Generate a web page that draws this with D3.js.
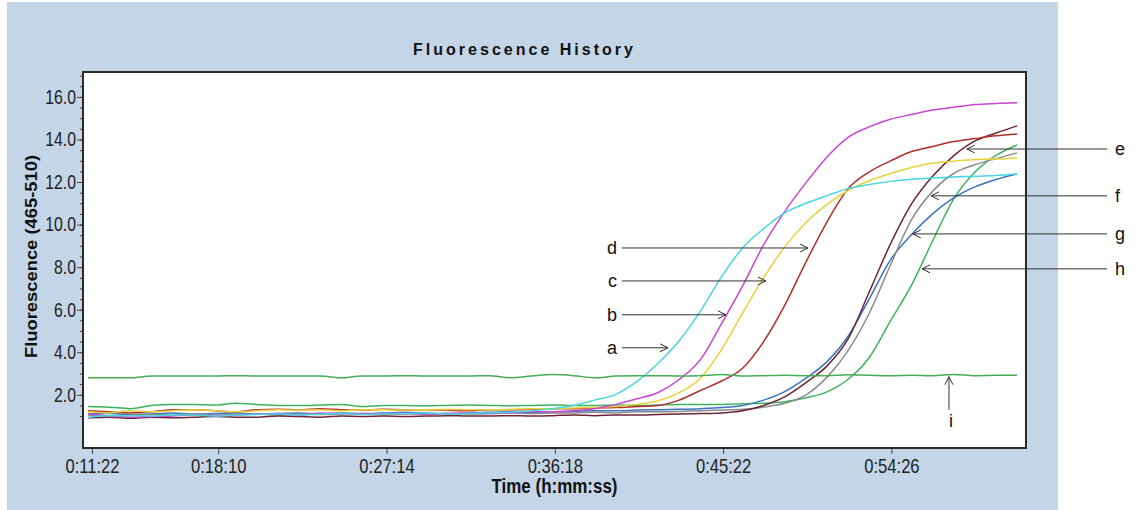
<!DOCTYPE html>
<html><head><meta charset="utf-8">
<script src="https://cdn.jsdelivr.net/npm/d3@7"></script>
<style>
body{margin:0;background:#fff;}
svg{display:block;}
</style></head><body>
<svg id="chart" width="1138" height="510"></svg>
<script>
// ---- data ----
const times = [669,737,806,874,942,1010,1079,1147,1215,1283,1352,1420,1488,1556,1625,1693,1761,1829,1898,1966,2034,2102,2171,2239,2307,2375,2444,2512,2580,2648,2717,2785,2853,2921,2990,3058,3126,3194,3263,3331,3399,3467,3536,3604,3672];

const seriesNames = ["a","b","c","d","e","f","g","h","i"];
const seriesColors = ["#47d7e0","#c846d2","#e6d23a","#b0302c","#6e2436","#8c8c8c","#3b74c0","#3fb35f","#44ad55"];

const seriesA = [0.95,1.02,1.02,1.0,1.05,1.05,1.0,1.05,1.08,1.1,1.05,1.1,1.12,1.08,1.1,1.12,1.15,1.1,1.12,1.15,1.18,1.25,1.35,1.5,1.75,2.02,2.63,3.48,4.54,5.92,7.55,8.9,9.81,10.55,11.0,11.36,11.69,11.88,12.03,12.13,12.19,12.24,12.27,12.31,12.38];
const seriesB = [1.1,1.0,0.95,0.98,1.0,1.05,1.02,1.05,1.1,1.12,1.05,1.15,1.12,1.1,1.12,1.15,1.1,1.12,1.15,1.12,1.15,1.2,1.2,1.25,1.35,1.55,1.81,2.11,2.72,3.64,5.35,7.12,9.05,10.61,11.97,13.18,14.1,14.59,14.95,15.17,15.38,15.51,15.64,15.69,15.72];
const seriesC = [1.2,1.15,1.25,1.2,1.25,1.3,1.25,1.2,1.25,1.3,1.28,1.3,1.25,1.3,1.3,1.28,1.3,1.32,1.3,1.3,1.32,1.35,1.35,1.38,1.4,1.45,1.55,1.72,2.1,2.77,4.12,5.85,7.5,8.95,10.1,10.95,11.6,12.06,12.4,12.68,12.89,12.98,13.06,13.08,13.13];
const seriesD = [1.25,1.2,1.15,1.2,1.3,1.3,1.25,1.2,1.3,1.32,1.3,1.35,1.3,1.28,1.32,1.3,1.3,1.28,1.25,1.3,1.3,1.32,1.35,1.35,1.38,1.4,1.45,1.5,1.75,2.2,2.65,3.25,4.5,6.2,8.25,10.13,11.68,12.47,12.99,13.43,13.67,13.9,14.04,14.17,14.26];
const seriesE = [0.92,0.95,0.9,0.95,0.92,0.95,0.98,0.95,0.95,1.0,0.98,0.95,1.0,0.98,1.0,0.98,1.0,1.02,1.0,1.0,1.02,1.0,1.02,1.05,1.02,1.05,1.05,1.08,1.1,1.12,1.15,1.25,1.5,1.9,2.57,3.36,4.63,6.82,9.09,10.97,12.27,13.23,13.93,14.3,14.64];
const seriesF = [1.05,1.0,1.05,1.08,1.05,1.1,1.05,1.08,1.1,1.05,1.1,1.08,1.1,1.12,1.08,1.1,1.1,1.12,1.1,1.12,1.15,1.12,1.15,1.15,1.18,1.15,1.2,1.2,1.22,1.25,1.28,1.32,1.42,1.6,2.0,2.83,4.08,5.82,8.1,10.23,11.56,12.4,12.81,13.1,13.37];
const seriesG = [1.1,1.12,1.08,1.1,1.15,1.1,1.12,1.15,1.1,1.12,1.15,1.1,1.15,1.12,1.15,1.18,1.15,1.12,1.15,1.18,1.2,1.18,1.2,1.22,1.25,1.25,1.28,1.3,1.32,1.35,1.4,1.5,1.75,2.15,2.78,3.56,4.75,6.5,8.34,9.53,10.5,11.25,11.77,12.12,12.38];
const seriesH = [1.45,1.42,1.35,1.5,1.55,1.55,1.52,1.6,1.55,1.5,1.5,1.52,1.55,1.45,1.5,1.5,1.48,1.5,1.52,1.5,1.48,1.5,1.52,1.5,1.5,1.52,1.5,1.52,1.55,1.55,1.55,1.58,1.6,1.67,1.86,2.14,2.73,3.74,5.47,7.15,9.23,11.2,12.47,13.25,13.74];
const seriesI = [2.8,2.8,2.8,2.88,2.88,2.88,2.88,2.9,2.88,2.88,2.88,2.88,2.8,2.88,2.88,2.9,2.88,2.88,2.88,2.9,2.8,2.88,2.95,2.9,2.8,2.88,2.9,2.9,2.88,2.9,2.95,2.88,2.9,2.92,2.9,2.9,2.94,2.92,2.9,2.92,2.9,2.96,2.9,2.92,2.92];

const xTickLabels = ["0:11:22","0:18:10","0:27:14","0:36:18","0:45:22","0:54:26"];
const yTickLabels = ["2.0","4.0","6.0","8.0","10.0","12.0","14.0","16.0"];

// arrow annotations (data coordinates: seconds, fluorescence)
const leftAnnoLabels = ["a","b","c","d"];
const leftAnnoTipTime = [2544,2731,2860,2996];
const leftAnnoTipValue = [4.21,5.76,7.35,8.9];
const leftAnnoTailTime = 2395;
const rightAnnoLabels = ["e","f","g","h"];
const rightAnnoTipTime = [3510,3394,3335,3365];
const rightAnnoTipValue = [13.55,11.35,9.56,7.92];
const rightAnnoTailTime = 3963;
const iAnnoLabel = "i";
const iAnnoTip = [3452, 2.85];
const iAnnoTailValue = 1.3;

// ---- drawing ----
const svg = d3.select("#chart");
const plot = {left: 83, top: 72, right: 1026, bottom: 448};

const toSec = s => { const p = s.split(":").map(Number); return p[0]*3600 + p[1]*60 + p[2]; };

const x = d3.scaleLinear().domain([653, 3701]).range([plot.left, plot.right]);
const y = d3.scaleLinear().domain([-0.5, 17.17]).range([plot.bottom, plot.top]);

const baseFont = "'Liberation Sans', Arial, sans-serif";
// narrow look: compress glyphs horizontally
function narrow(sel, factor) {
  sel.each(function() {
    const len = this.getComputedTextLength();
    d3.select(this).attr("textLength", len * factor).attr("lengthAdjust", "spacingAndGlyphs");
  });
}

// panel
svg.append("rect").attr("x", 7).attr("y", 2).attr("width", 1051).attr("height", 508).attr("fill", "#c3d5e6");

// plot area
svg.append("rect").attr("x", plot.left).attr("y", plot.top)
  .attr("width", plot.right - plot.left).attr("height", plot.bottom - plot.top)
  .attr("fill", "#fff");

// title
svg.append("text").attr("x", 413).attr("y", 55)
  .attr("textLength", 220).attr("lengthAdjust", "spacing")
  .style("font-family", baseFont)
  .style("font-size", "16px").style("font-weight", "bold").attr("fill", "#111")
  .text("Fluorescence History");

// y axis (minor ticks)
const minorVals = d3.range(1, 17.01, 0.5);
const yMinor = svg.append("g").attr("transform", `translate(${plot.left},0)`)
  .call(d3.axisLeft(y).tickValues(minorVals).tickSize(3).tickFormat(""));
yMinor.select(".domain").remove();
yMinor.selectAll("line").attr("stroke", "#444");

// y axis (major)
const yMajorVals = yTickLabels.map(Number);
const yAxis = svg.append("g").attr("transform", `translate(${plot.left},0)`)
  .call(d3.axisLeft(y).tickValues(yMajorVals).tickSize(6).tickPadding(1)
    .tickFormat((d, i) => yTickLabels[i]));
yAxis.select(".domain").remove();
yAxis.selectAll("line").attr("stroke", "#444");
yAxis.selectAll("text").style("font-family", baseFont).style("font-size", "20px").attr("fill", "#222");
narrow(yAxis.selectAll("text"), 0.79);

// x axis
const xVals = xTickLabels.map(toSec);
const xAxis = svg.append("g").attr("transform", `translate(0,${plot.bottom})`)
  .call(d3.axisBottom(x).tickValues(xVals).tickSize(6).tickPadding(4)
    .tickFormat((d, i) => xTickLabels[i]));
xAxis.select(".domain").remove();
xAxis.selectAll("line").attr("stroke", "#444");
xAxis.selectAll("text").style("font-family", baseFont).style("font-size", "21px").attr("fill", "#222");
narrow(xAxis.selectAll("text"), 0.79);

// axis titles
svg.append("text").attr("x", (plot.left + plot.right) / 2).attr("y", 493)
  .attr("text-anchor", "middle").attr("textLength", 126).attr("lengthAdjust", "spacingAndGlyphs")
  .style("font-family", baseFont).style("font-size", "20px").style("font-weight", "bold").attr("fill", "#111")
  .text("Time (h:mm:ss)");

svg.append("text").attr("transform", "translate(37,256.5) rotate(-90)")
  .attr("text-anchor", "middle").attr("textLength", 203).attr("lengthAdjust", "spacingAndGlyphs")
  .style("font-family", baseFont)
  .style("font-size", "16px").style("font-weight", "bold").attr("fill", "#111")
  .text("Fluorescence (465-510)");

// clip
svg.append("clipPath").attr("id", "clip").append("rect")
  .attr("x", plot.left).attr("y", plot.top)
  .attr("width", plot.right - plot.left).attr("height", plot.bottom - plot.top);

const allSeries = [seriesA, seriesB, seriesC, seriesD, seriesE, seriesF, seriesG, seriesH, seriesI];
const line = d3.line().x((d, i) => x(times[i])).y(d => y(d)).curve(d3.curveMonotoneX);
const drawOrder = [7, 6, 5, 4, 3, 2, 1, 0, 8];
const lines = svg.append("g").attr("clip-path", "url(#clip)");
drawOrder.forEach(k => {
  lines.append("path").datum(allSeries[k])
    .attr("fill", "none").attr("stroke", seriesColors[k]).attr("stroke-width", 1.5)
    .attr("stroke-linejoin", "round")
    .attr("d", line)
    .attr("data-name", seriesNames[k]);
});

// plot border
svg.append("rect").attr("x", plot.left).attr("y", plot.top)
  .attr("width", plot.right - plot.left).attr("height", plot.bottom - plot.top)
  .attr("fill", "none").attr("stroke", "#2a2a2a").attr("stroke-width", 2);

// annotations
const anno = svg.append("g");
function arrowH(tipX, tipY, tailX) {
  const dir = tailX < tipX ? 1 : -1;
  anno.append("line").attr("x1", tailX).attr("y1", tipY).attr("x2", tipX).attr("y2", tipY)
    .attr("stroke", "#333").attr("stroke-width", 1);
  anno.append("path")
    .attr("d", `M${tipX - dir*8},${tipY - 4}L${tipX},${tipY}L${tipX - dir*8},${tipY + 4}`)
    .attr("fill", "none").attr("stroke", "#333").attr("stroke-width", 1);
}
leftAnnoLabels.forEach((lab, i) => {
  const tx = x(leftAnnoTipTime[i]), ty = y(leftAnnoTipValue[i]), sx = x(leftAnnoTailTime);
  arrowH(tx, ty, sx);
  anno.append("text").attr("x", sx - 5).attr("y", ty).attr("dy", "0.35em")
    .attr("text-anchor", "end").style("font-family", baseFont).style("font-size", "18px")
    .attr("fill", "#111").text(lab);
});
rightAnnoLabels.forEach((lab, i) => {
  const tx = x(rightAnnoTipTime[i]), ty = y(rightAnnoTipValue[i]), sx = x(rightAnnoTailTime);
  arrowH(tx, ty, sx);
  anno.append("text").attr("x", sx + 8).attr("y", ty).attr("dy", "0.35em")
    .attr("text-anchor", "start").style("font-family", baseFont).style("font-size", "18px")
    .attr("fill", "#111").text(lab);
});
{
  const tx = x(iAnnoTip[0]), ty = y(iAnnoTip[1]), by = y(iAnnoTailValue);
  anno.append("line").attr("x1", tx).attr("y1", by).attr("x2", tx).attr("y2", ty)
    .attr("stroke", "#333").attr("stroke-width", 1);
  anno.append("path").attr("d", `M${tx - 4},${ty + 8}L${tx},${ty}L${tx + 4},${ty + 8}`)
    .attr("fill", "none").attr("stroke", "#333").attr("stroke-width", 1);
  anno.append("text").attr("x", tx + 2).attr("y", by + 17).attr("text-anchor", "middle")
    .style("font-family", baseFont).style("font-size", "18px").attr("fill", "#111").text(iAnnoLabel);
}
</script>
</body></html>
